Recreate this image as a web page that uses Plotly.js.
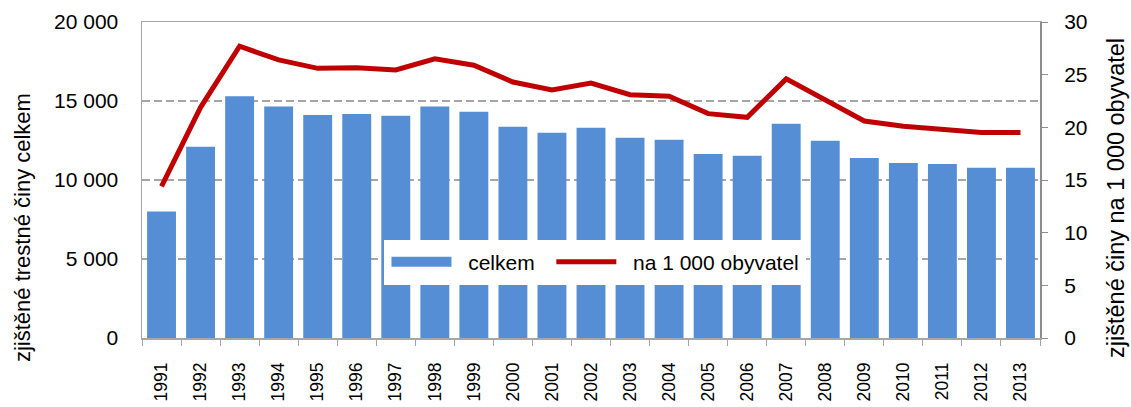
<!DOCTYPE html>
<html>
<head>
<meta charset="utf-8">
<script src="https://cdn.plot.ly/plotly-3.0.1.min.js"></script>
<style>
  html, body { margin: 0; padding: 0; background: #fff; }
  #chart { width: 1131px; height: 407px; }
</style>
</head>
<body>
<div id="chart"></div>
<script>
'use strict';

const years = ['1991', '1992', '1993', '1994', '1995', '1996', '1997', '1998', '1999', '2000',
  '2001', '2002', '2003', '2004', '2005', '2006', '2007', '2008', '2009', '2010',
  '2011', '2012', '2013'];

// zjištěné trestné činy celkem
const celkem = [8000, 12100, 15300, 14650, 14120, 14180, 14060, 14650, 14320, 13370,
  12990, 13300, 12680, 12550, 11650, 11530, 13560, 12480, 11400, 11080,
  11020, 10770, 10770];

// na 1 000 obyvatel
const naTisic = [14.4, 21.9, 27.7, 26.4, 25.6, 25.65, 25.45, 26.5, 25.9, 24.3,
  23.55, 24.2, 23.1, 22.95, 21.3, 20.95, 24.6, 22.6, 20.6, 20.1,
  19.85, 19.5, 19.5];

const leftTitle = 'zjištěné trestné činy celkem';
const rightTitle = 'zjištěné činy na 1 000 obyvatel';

const font = 'Liberation Sans, Arial, sans-serif';
const barColor = '#558ED5';
const lineColor = '#C00000';
const nb = n => '\u00a0'.repeat(n);

const bars = {
  type: 'bar',
  name: 'celkem',
  x: years,
  y: celkem,
  marker: {color: barColor},
  showlegend: false,
  hoverinfo: 'skip',
};

// legend entry only: Excel draws the bar key as a wide flat block
const barKey = {
  type: 'scatter',
  mode: 'lines',
  name: nb(2) + 'celkem' + nb(2),
  x: [null],
  y: [null],
  line: {color: barColor, width: 10},
  hoverinfo: 'skip',
};

const line = {
  type: 'scatter',
  mode: 'lines',
  name: nb(2) + 'na 1 000 obyvatel',
  x: years,
  y: naTisic,
  yaxis: 'y2',
  line: {color: lineColor, width: 5},
  hoverinfo: 'skip',
};

// Excel places both axis titles a little below the axis middle
const titleFont = {family: font, size: 22, color: '#000'};
const annotations = [
  {text: leftTitle, textangle: -90, xref: 'paper', yref: 'paper',
    x: -0.1336, y: 0.348, xanchor: 'center', yanchor: 'middle', showarrow: false, font: titleFont},
  {text: rightTitle, textangle: -90, xref: 'paper', yref: 'paper',
    x: 1.0846, y: 0.443, xanchor: 'center', yanchor: 'middle', showarrow: false,
    font: Object.assign({}, titleFont, {size: 23.5})},
];

const layout = {
  width: 1131,
  height: 407,
  margin: {l: 142, r: 91, t: 22, b: 69},
  paper_bgcolor: '#fff',
  plot_bgcolor: '#fff',
  separators: ', ',
  bargap: 0.26,
  font: {family: font, size: 21, color: '#000'},
  annotations,
  showlegend: true,
  legend: {
    orientation: 'h',
    x: 0.27,
    y: 0.24,
    xanchor: 'left',
    yanchor: 'middle',
    bgcolor: '#fff',
    bordercolor: '#fff',
    borderwidth: 2,
    font: {family: font, size: 21, color: '#000'},
    itemwidth: 60,
    tracegroupgap: 0,
  },
  xaxis: {
    type: 'category',
    showline: true,
    linecolor: '#a6a6a6',
    linewidth: 1.5,
    mirror: true,
    ticks: 'outside',
    tickson: 'boundaries',
    ticklen: 6,
    tickcolor: '#a6a6a6',
    tickangle: -90,
    ticklabelstandoff: 16,
    tickfont: {family: font, size: 17.5},
    showgrid: false,
    fixedrange: true,
  },
  yaxis: {
    range: [0, 20000],
    dtick: 5000,
    tickformat: ',d',
    showline: true,
    linecolor: '#a6a6a6',
    linewidth: 1.5,
    ticks: '',
    ticklabelstandoff: 18,
    showgrid: true,
    gridcolor: '#a6a6a6',
    griddash: '8px,4px',
    gridwidth: 1.5,
    zeroline: false,
    tickfont: {family: font, size: 21},
    fixedrange: true,
  },
  yaxis2: {
    overlaying: 'y',
    side: 'right',
    range: [0, 30],
    dtick: 5,
    showline: true,
    linecolor: '#8c8c8c',
    linewidth: 2,
    ticks: 'outside',
    ticklen: 6,
    tickcolor: '#8c8c8c',
    ticklabelstandoff: 12,
    showgrid: false,
    zeroline: false,
    tickfont: {family: font, size: 21},
    fixedrange: true,
  },
};

Plotly.newPlot('chart', [bars, barKey, line], layout, {displayModeBar: false, staticPlot: true});
</script>
</body>
</html>
